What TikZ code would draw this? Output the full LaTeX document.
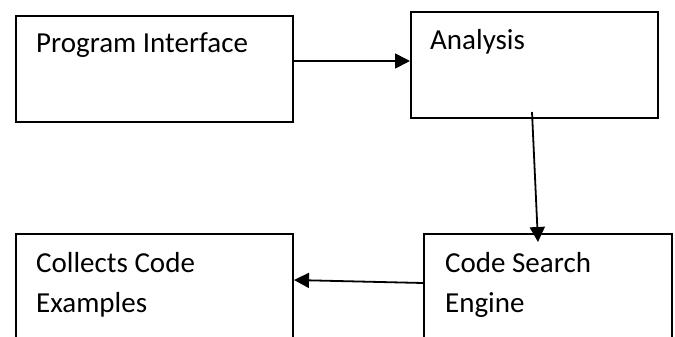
\documentclass[tikz,border=0pt]{standalone}
\usepackage{fontspec}
\setmainfont{Carlito}
\usetikzlibrary{arrows.meta}
\begin{document}
\begin{tikzpicture}[x=1pt,y=-1pt,
  stagebox/.style={draw=black, line width=2pt, rectangle, inner sep=0pt, anchor=north west},
  caption/.style={anchor=base west, inner sep=0pt, align=left,
    font=\fontsize{29}{40}\selectfont},
  flow/.style={draw=black, line width=1.8pt, -{Triangle[length=15pt,width=15pt]}}]
  \useasboundingbox (0,0) rectangle (675,337);
  \clip (0,0) rectangle (675,337);
  % boxes (the lower pair runs past the bottom edge)
  \node[stagebox, minimum width=277pt, minimum height=106pt] (prog) at (15,15) {};
  \node[stagebox, minimum width=247pt, minimum height=106pt] (anal) at (410,11) {};
  \node[stagebox, minimum width=248pt, minimum height=130pt] (search) at (423,233) {};
  \node[stagebox, minimum width=277pt, minimum height=130pt] (collect) at (15,233) {};
  % labels (two-line labels sit on the baseline of their last line)
  \node[caption] (progtxt) at (36,53) {Program Interface};
  \node[caption] (analtxt) at (430,50) {Analysis};
  \node[caption] (searchtxt) at (445,312) {Code Search\\Engine};
  \node[caption] (collecttxt) at (36,312) {Collects Code\\Examples};
  % connectors
  \draw[flow] ([yshift=8pt]prog.east) -- ([yshift=4pt]anal.west);
  \draw[flow] ([xshift=-2.5pt,yshift=7pt]anal.south) -- ([xshift=-10pt,yshift=-9pt]search.north);
  \draw[flow] ([yshift=16pt]search.west) -- ([yshift=19pt]collect.east);
\end{tikzpicture}
\end{document}
